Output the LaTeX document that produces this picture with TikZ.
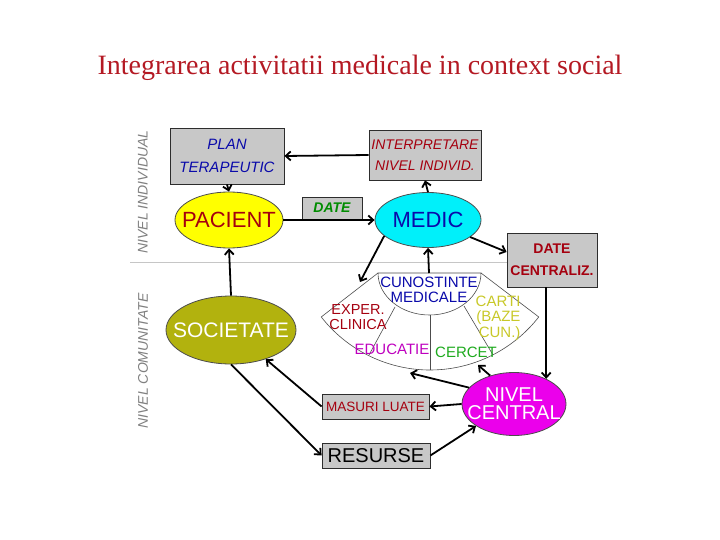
\documentclass[tikz,border=0pt]{standalone}
\usepackage{fontspec}
\setmainfont{Liberation Serif}
\setsansfont{Liberation Sans}
\usepackage{xcolor}
\usepackage{tikz}
\usetikzlibrary{positioning,calc,arrows.meta,shapes.geometric}

\definecolor{titlered}{RGB}{180,25,35}
\definecolor{boxgray}{RGB}{200,200,200}
\definecolor{darkred}{RGB}{165,0,15}
\definecolor{navy}{RGB}{10,10,170}
\definecolor{pacyellow}{RGB}{255,255,0}
\definecolor{medcyan}{RGB}{0,240,250}
\definecolor{olivey}{RGB}{178,178,14}
\definecolor{magentac}{RGB}{235,0,235}
\definecolor{cartiyel}{RGB}{200,200,40}
\definecolor{educmag}{RGB}{190,0,190}
\definecolor{cercgreen}{RGB}{30,170,30}

\newcommand{\fs}[2]{\fontsize{#1}{#2}\selectfont}

\begin{document}
\begin{tikzpicture}[
    x=1pt, y=1pt,
    every node/.style={font=\sffamily},
    infobox/.style={fill=boxgray, draw=gray!35!black, line width=0.8pt, inner sep=0pt},
    blob/.style={ellipse, draw=black!70, line width=0.8pt, inner sep=0pt},
    blobtext/.style={inner sep=0pt, align=center},
    arr/.style={-{Straight Barb[length=5pt,width=9pt]}, line width=1.8pt, black},
    fanline/.style={draw=gray!60!black, line width=0.6pt},
    levellabel/.style={rotate=90, text=gray, font=\sffamily\itshape\fs{14}{14}},
]
\useasboundingbox (0,0) rectangle (720,-540);

% =====================================================================
% Title
% =====================================================================
\node[font=\rmfamily\fs{28}{28}, text=titlered] (title) at (360,-68)
    {Integrarea activitatii medicale in context social};

% level separator and level labels
\draw[gray!45, line width=1pt] (130,-262) -- (597,-262);
\node[levellabel] (lvlindiv) at (143,-192) {NIVEL INDIVIDUAL};
\node[levellabel] (lvlcomun) at (143,-361) {NIVEL COMUNITATE};

% =====================================================================
% Individual level
% =====================================================================
\node[infobox, minimum width=114, minimum height=56, align=center,
      text=navy, font=\sffamily\itshape\fs{15}{23}] (plan) at (227,-156)
    {PLAN\\TERAPEUTIC};
\node[infobox, minimum width=112, minimum height=50, align=center,
      text=darkred, font=\sffamily\itshape\fs{14}{21}] (interp) at (425,-155)
    {INTERPRETARE\\NIVEL INDIVID.};
\node[blob, fill=pacyellow, minimum width=108, minimum height=56,
      label={[blobtext, text=darkred, font=\sffamily\fs{22}{22}]center:PACIENT}] (pacient) at (229,-220) {};
\node[infobox, minimum width=60, minimum height=22,
      text=green!55!black, font=\sffamily\bfseries\itshape\fs{14}{14}] (date) at (332,-208) {DATE};
\node[blob, fill=medcyan, minimum width=106, minimum height=55,
      label={[blobtext, text=navy, font=\sffamily\fs{22}{22}]center:MEDIC}] (medic) at (428,-220) {};
\node[infobox, minimum width=90, minimum height=54, align=center,
      text=darkred, font=\sffamily\bfseries\fs{14}{22}] (dcentr) at (552,-260)
    {DATE\\CENTRALIZ.};

% =====================================================================
% Community level
% =====================================================================
\node[blob, fill=olivey, minimum width=130, minimum height=68,
      label={[blobtext, text=white, font=\sffamily\fs{21}{21}]center:SOCIETATE}] (societate) at (231,-330) {};
\node[blob, fill=magentac, minimum width=104, minimum height=63,
      label={[blobtext, text=white, font=\sffamily\fs{20}{18}]center:NIVEL\\CENTRAL}] (nivel) at (514,-404) {};
\node[infobox, minimum width=107, minimum height=25,
      text=darkred, font=\sffamily\fs{13.5}{13.5}] (masuri) at (375.5,-406.5) {MASURI LUATE};
\node[infobox, minimum width=108, minimum height=25,
      text=black, font=\sffamily\fs{20}{20}] (resurse) at (376,-455.5) {RESURSE};

% Knowledge fan (medical knowledge and its sources)
\draw[fanline] (378,-273) -- ($(430,-232)+(218:138)$)
    arc[start angle=218, end angle=322, radius=138] -- (481,-273);
\draw[fanline, fill=white] (378,-273) arc[start angle=180, end angle=360, x radius=51.5, y radius=42] -- cycle;
\draw[fanline] (430,-315) -- (430,-370);
\draw[fanline] (395,-307) -- (369,-355);
\draw[fanline] (464,-306) -- (493,-355);

\node[align=center, text=navy, font=\sffamily\fs{15}{15}] (cuno) at (429,-290) {CUNOSTINTE\\MEDICALE};
\node[align=center, text=darkred, font=\sffamily\fs{14.5}{15}] (exper) at (358,-317) {EXPER.\\CLINICA};
\node[align=right, anchor=east, text=cartiyel, font=\sffamily\fs{15}{15.5}] (carti) at (524,-318) {CARTI\\(BAZE\\CUN.)};
\node[text=educmag, font=\sffamily\fs{15}{15}] (educ) at (392,-349) {EDUCATIE};
\node[text=cercgreen, font=\sffamily\fs{15}{15}] (cercet) at (466,-352) {CERCET};

\coordinate (fantop) at (429,-273);
\coordinate (fanleft) at (360,-282);
\coordinate (fanbot) at (410,-373);
\coordinate (fanright) at (478,-365);

% =====================================================================
% Connectors
% =====================================================================
\draw[arr] (interp.west) -- (plan.east);
\draw[arr] (plan.south) -- (pacient.north);
\draw[arr] (pacient.east) -- (medic.west);
\draw[arr] (medic.north) -- (interp.south);
\draw[arr] (medic.-22) -- (dcentr.170);
\draw[arr] (dcentr.south -| nivel.38) -- (nivel.38);
\draw[arr] (societate.north) -- (pacient.south);
\draw[arr] (medic.200) -- (fanleft);
\draw[arr] (fantop) -- (medic.south);
\draw[arr] (nivel.160) -- (fanbot);
\draw[arr] (nivel.130) -- (fanright);
\draw[arr] (nivel.west) -- (masuri.east);
\draw[arr] (masuri.west) -- (societate.-40);
\draw[arr] (societate.south) -- (resurse.west);
\draw[arr] (resurse.east) -- (nivel.210);

\end{tikzpicture}
\end{document}
